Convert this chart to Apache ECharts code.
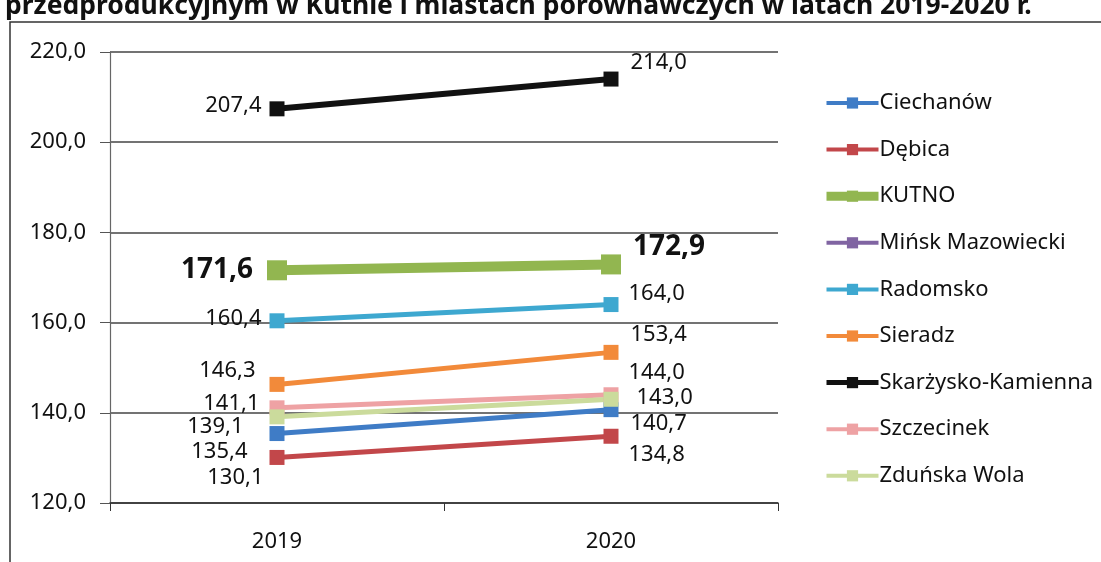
<!DOCTYPE html>
<html>
<head>
<meta charset="utf-8">
<script src="https://cdn.jsdelivr.net/npm/echarts@6/dist/echarts.min.js"></script>
<style>
  html, body { margin: 0; padding: 0; background: #fff; }
  #chart { width: 1101px; height: 562px; }
</style>
</head>
<body>
<div id="chart"></div>
<script>
// dane
const years = ['2019', '2020']
const cities = ['Ciechanów', 'Dębica', 'KUTNO', 'Mińsk Mazowiecki', 'Radomsko', 'Sieradz', 'Skarżysko-Kamienna', 'Szczecinek', 'Zduńska Wola']
const ciechanow = [135.4, 140.7]
const debica = [130.1, 134.8]
const kutno = [171.6, 172.9]
const minsk = [null, null]
const radomsko = [160.4, 164.0]
const sieradz = [146.3, 153.4]
const skarzysko = [207.4, 214.0]
const szczecinek = [141.1, 144.0]
const zdunska = [139.1, 143.0]
const yTicks = [120, 140, 160, 180, 200, 220]

const seriesValues = [ciechanow, debica, kutno, minsk, radomsko, sieradz, skarzysko, szczecinek, zdunska]
const colors = ['#3f7cc6', '#c2474a', '#92b650', '#8064a2', '#3ea8d0', '#f28a3a', '#111111', '#eea2a4', '#cbdb9c']

// pozycje etykiet: [2019, 2020] -> [distance, dy]
const labelPlace = [
  [[22, 18], [12, 14]],
  [[6, 20], [10, 18]],
  [[14, 0], [12, -17]],
  [[10, 0], [10, 0]],
  [[8, -2], [10, -11]],
  [[14, -14], [12, -18]],
  [[8, -3], [12, -16]],
  [[10, -4], [10, -22]],
  [[26, 10], [18, -2]]
]

const fmt = v => v.toFixed(1).replace('.', ',')
const font = 'Noto Sans'
const lineW = name => name === 'KUTNO' ? 10 : (name === 'Skarżysko-Kamienna' ? 6 : 5)

const series = cities.map((name, i) => {
  const big = name === 'KUTNO'
  return {
    name: name,
    type: 'line',
    data: seriesValues[i].map((v, j) => ({
      value: v,
      label: {
        position: j === 0 ? 'left' : 'right',
        distance: labelPlace[i][j][0],
        offset: [0, labelPlace[i][j][1]]
      }
    })),
    symbol: 'rect',
    symbolSize: big ? 20 : 15,
    itemStyle: { color: colors[i] },
    lineStyle: { color: colors[i], width: lineW(name) },
    label: {
      show: true,
      formatter: p => fmt(p.value),
      color: '#111',
      fontFamily: font,
      fontSize: big ? 28 : 22,
      fontWeight: big ? 'bold' : 'normal'
    },
    emphasis: { disabled: true },
    animation: false
  }
})

const chart = echarts.init(document.getElementById('chart'))
chart.setOption({
  animation: false,
  textStyle: { fontFamily: font },
  graphic: [
    {
      type: 'rect',
      shape: { x: 10, y: 22, width: 1200, height: 700 },
      style: { fill: 'none', stroke: '#333', lineWidth: 1.5 }
    },
    {
      type: 'text',
      left: 5,
      top: -7,
      style: {
        text: 'przedprodukcyjnym w Kutnie i miastach porównawczych w latach 2019-2020 r.',
        font: 'bold 26.5px "Noto Sans"',
        fill: '#111'
      }
    }
  ],
  grid: { left: 110, right: 323, top: 52, bottom: 59 },
  legend: {
    orient: 'vertical',
    left: 817,
    top: 86,
    itemWidth: 52,
    itemHeight: 14,
    itemGap: 22.6,
    data: cities.map(name => ({
      name: name,
      lineStyle: { width: lineW(name) - 1 }
    })),
    textStyle: { fontFamily: font, fontSize: 22, lineHeight: 24, color: '#111', padding: [0, 0, 0, -4] }
  },
  xAxis: {
    type: 'category',
    data: years,
    boundaryGap: true,
    axisLine: { lineStyle: { color: '#333', width: 1.5 } },
    axisTick: { show: true, length: 8, lineStyle: { color: '#333' } },
    axisLabel: { fontFamily: font, fontSize: 22, color: '#111', margin: 28 }
  },
  yAxis: {
    type: 'value',
    min: yTicks[0],
    max: yTicks[yTicks.length - 1],
    interval: 20,
    axisLine: { show: true, lineStyle: { color: '#666', width: 1.2 } },
    axisTick: { show: true, length: 10, lineStyle: { color: '#555' } },
    splitLine: { lineStyle: { color: '#444', width: 1.5 } },
    axisLabel: { fontFamily: font, fontSize: 22, color: '#111', margin: 24, formatter: v => fmt(v) }
  },
  series: series
})
</script>
</body>
</html>
